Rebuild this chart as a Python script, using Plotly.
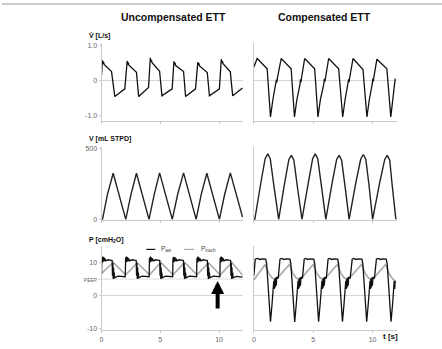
import plotly.graph_objects as go

# ---------------- data ----------------
# Flow, uncompensated ETT  [L/s]
flow_unc_t = [0.00, 0.07, 0.12, 0.16, 0.22, 0.85, 1.13, 1.98,
              2.18, 2.23, 2.27, 2.33, 2.97, 3.16, 4.00,
              4.15, 4.20, 4.24, 4.30, 4.94, 5.14, 6.01,
              6.16, 6.21, 6.25, 6.31, 6.98, 7.15, 8.00,
              8.19, 8.24, 8.28, 8.34, 9.00, 9.18, 10.03,
              10.19, 10.24, 10.28, 10.34, 10.96, 11.16, 12.00]
flow_unc_v = [0.15, 0.57, 0.47, 0.53, 0.45, 0.25, -0.46, -0.24,
              0.55, 0.45, 0.51, 0.43, 0.23, -0.46, -0.20,
              0.64, 0.53, 0.58, 0.50, 0.26, -0.44, -0.24,
              0.54, 0.45, 0.50, 0.42, 0.25, -0.46, -0.24,
              0.52, 0.43, 0.49, 0.41, 0.22, -0.44, -0.24,
              0.60, 0.50, 0.55, 0.47, 0.24, -0.44, -0.22]

# Flow, compensated ETT [L/s]
flow_comp_t = [0.00, 0.28, 1.12, 1.40, 1.60, 1.85, 1.90, 1.94, 1.98,
               2.30, 3.14, 3.42, 3.62, 3.88, 3.93, 3.97, 4.01,
               4.28, 5.12, 5.40, 5.60, 5.88, 5.94, 5.98, 6.03,
               6.30, 7.14, 7.48, 7.68, 7.92, 7.98, 8.02, 8.06,
               8.35, 9.19, 9.52, 9.72, 9.96, 10.02, 10.06, 10.10,
               10.36, 11.20, 11.53, 11.70, 11.86, 11.90]
flow_comp_v = [0.38, 0.62, 0.33, -1.04, -0.55, -0.12, 0.02, -0.06, 0.06,
               0.62, 0.33, -1.04, -0.55, -0.12, 0.03, -0.05, 0.06,
               0.62, 0.33, -1.04, -0.55, -0.12, 0.04, -0.04, 0.06,
               0.62, 0.33, -1.04, -0.55, -0.12, 0.03, -0.05, 0.06,
               0.62, 0.31, -1.04, -0.55, -0.12, 0.05, -0.03, 0.08,
               0.60, 0.33, -1.04, -0.50, -0.08, 0.05]

# Volume, uncompensated [mL STPD]
vol_unc_t = [0.00, 0.08, 0.50, 0.99, 2.06, 2.50, 2.97, 4.04, 4.48, 4.94,
             6.02, 6.48, 6.98, 8.05, 8.48, 8.96, 10.03, 10.48, 10.96, 12.00]
vol_unc_v = [0, 0, 175, 327, 0, 175, 327, 0, 175, 330,
             0, 178, 330, 0, 175, 327, 0, 178, 330, 16]

# Volume, compensated [mL STPD]
vol_comp_t = [0.00, 0.08, 0.60, 0.95, 1.17, 1.38, 1.70, 2.09,
              2.60, 2.95, 3.16, 3.37, 3.70, 4.05,
              4.60, 4.95, 5.17, 5.38, 5.70, 6.06,
              6.60, 6.97, 7.18, 7.39, 7.70, 8.02,
              8.60, 9.00, 9.22, 9.43, 9.70, 10.00,
              10.60, 11.02, 11.23, 11.44, 11.65, 11.96]
vol_comp_v = [0, 0, 265, 430, 465, 430, 230, 0,
              262, 425, 454, 420, 210, 0,
              265, 430, 465, 430, 230, 0,
              262, 425, 454, 420, 220, 0,
              265, 428, 460, 425, 240, 0,
              262, 425, 454, 420, 240, 0]

# Airway pressure P_aw, uncompensated [cmH2O]
paw_unc_t = [0.00, 0.03, 0.07, 0.11, 0.15, 0.19, 0.24, 0.29, 0.36, 0.55, 0.90,
             0.93, 0.96, 0.99, 1.02, 1.05, 1.08, 1.12, 1.40, 2.02,
             2.05, 2.09, 2.13, 2.17, 2.21, 2.26, 2.31, 2.38, 2.60, 2.95,
             2.98, 3.01, 3.04, 3.07, 3.10, 3.13, 3.17, 3.45, 4.05,
             4.08, 4.12, 4.16, 4.20, 4.24, 4.29, 4.34, 4.41, 4.60, 4.95,
             4.98, 5.01, 5.04, 5.07, 5.10, 5.13, 5.17, 5.45, 6.05,
             6.08, 6.12, 6.16, 6.20, 6.24, 6.29, 6.34, 6.41, 6.60, 6.97,
             7.00, 7.03, 7.06, 7.09, 7.12, 7.15, 7.19, 7.47, 8.09,
             8.12, 8.16, 8.20, 8.24, 8.28, 8.33, 8.38, 8.45, 8.64, 9.00,
             9.03, 9.06, 9.09, 9.12, 9.15, 9.18, 9.22, 9.50, 10.07,
             10.10, 10.14, 10.18, 10.22, 10.26, 10.31, 10.36, 10.43, 10.62, 10.98,
             11.01, 11.04, 11.07, 11.10, 11.13, 11.16, 11.20, 11.48, 12.00]
paw_unc_v = [6.5, 11.5, 10.0, 11.8, 10.2, 11.6, 10.4, 11.2, 10.5, 10.8, 10.6,
             6.0, 9.8, 5.0, 8.5, 5.2, 7.0, 5.4, 5.9, 5.7,
             11.5, 10.0, 11.8, 10.2, 11.6, 10.4, 11.2, 10.5, 10.8, 10.6,
             6.0, 9.8, 5.0, 8.5, 5.2, 7.0, 5.4, 5.9, 5.7,
             11.4, 10.0, 11.8, 10.2, 11.5, 10.4, 11.2, 10.5, 10.8, 10.6,
             6.0, 9.8, 5.0, 8.5, 5.2, 7.0, 5.4, 5.9, 5.7,
             11.5, 10.0, 11.7, 10.2, 11.6, 10.4, 11.2, 10.5, 10.8, 10.6,
             6.0, 9.8, 5.0, 8.5, 5.2, 7.0, 5.4, 5.9, 5.7,
             11.4, 10.0, 11.8, 10.2, 11.5, 10.4, 11.2, 10.5, 10.8, 10.6,
             6.0, 9.8, 5.0, 8.5, 5.2, 7.0, 5.4, 5.9, 5.7,
             11.5, 10.0, 11.8, 10.2, 11.6, 10.4, 11.2, 10.5, 10.8, 10.6,
             6.0, 9.8, 5.0, 8.5, 5.2, 7.0, 5.4, 5.8, 5.6]

# Tracheal pressure P_trach, uncompensated
ptr_unc_t = [0.00, 1.00, 2.05, 3.05, 4.08, 5.05, 6.08, 7.07, 8.12, 9.10, 10.10, 11.08, 12.00]
ptr_unc_v = [6.7, 10.0, 6.3, 9.9, 6.3, 10.0, 6.3, 10.0, 6.3, 9.9, 6.2, 10.0, 6.2]

# Airway pressure P_aw, compensated
paw_comp_t = [0.00, 0.12, 0.30, 0.50, 0.70, 1.00, 1.08, 1.22, 1.40, 1.52, 1.62, 1.68, 1.72,
              1.76, 1.80, 1.84, 1.88, 1.93, 2.05,
              2.20, 2.34, 2.54, 2.74, 3.04, 3.12, 3.26, 3.44, 3.56, 3.66, 3.72, 3.76,
              3.80, 3.84, 3.88, 3.92, 3.97, 4.09,
              4.24, 4.35, 4.55, 4.75, 5.05, 5.13, 5.27, 5.45, 5.57, 5.67, 5.73, 5.77,
              5.81, 5.85, 5.89, 5.93, 5.98, 6.10,
              6.25, 6.36, 6.56, 6.76, 7.06, 7.14, 7.28, 7.46, 7.58, 7.68, 7.74, 7.78,
              7.82, 7.86, 7.90, 7.94, 7.99, 8.11,
              8.28, 8.40, 8.60, 8.80, 9.10, 9.18, 9.32, 9.50, 9.62, 9.72, 9.78, 9.82,
              9.86, 9.90, 9.94, 9.98, 10.03, 10.15,
              10.32, 10.45, 10.65, 10.85, 11.15, 11.23, 11.37, 11.55, 11.67, 11.77, 11.82, 11.86,
              11.90]
paw_comp_v = [6.0, 11.0, 11.2, 10.9, 11.1, 11.0, 9.5, 2.0, -7.8, -3.0, 1.0, 4.5, 2.0,
              5.2, 2.5, 5.5, 3.0, 5.6, 5.2,
              11.0, 11.2, 10.9, 11.1, 11.0, 9.5, 2.0, -7.9, -3.0, 1.0, 4.5, 2.0,
              5.2, 2.5, 5.5, 3.0, 5.6, 5.2,
              11.0, 11.2, 10.9, 11.1, 11.0, 9.5, 2.0, -7.8, -3.0, 1.0, 4.5, 2.0,
              5.2, 2.5, 5.5, 3.0, 5.6, 5.2,
              11.0, 11.2, 10.9, 11.1, 11.0, 9.5, 2.0, -7.8, -3.0, 1.0, 4.5, 2.0,
              5.2, 2.5, 5.5, 3.0, 5.6, 5.2,
              11.0, 11.2, 10.9, 11.1, 11.0, 9.5, 2.0, -7.8, -3.0, 1.0, 4.5, 2.0,
              5.2, 2.5, 5.5, 3.0, 5.6, 5.2,
              11.0, 11.2, 10.9, 11.1, 11.0, 9.5, 2.0, -7.8, -3.0, 1.0, 4.5, 2.0,
              4.5]

# Tracheal pressure P_trach, compensated
ptr_comp_t = [0.00, 0.95, 1.25, 1.55, 1.80, 2.05,
              3.00, 3.28, 3.58, 3.83, 4.08,
              5.00, 5.30, 5.60, 5.85, 6.10,
              7.03, 7.32, 7.62, 7.87, 8.12,
              9.07, 9.36, 9.66, 9.91, 10.16,
              11.10, 11.40, 11.70, 11.90]
ptr_comp_v = [4.7, 9.4, 6.8, 5.3, 4.9, 5.6,
              9.4, 6.8, 5.3, 4.9, 5.6,
              9.4, 6.8, 5.3, 4.9, 5.6,
              9.4, 6.8, 5.3, 4.9, 5.6,
              9.4, 6.8, 5.3, 4.9, 5.6,
              9.4, 6.6, 5.0, 4.5]

col_titles = ["Uncompensated ETT", "Compensated ETT"]
x_ticks = [0, 5, 10]
flow_ticks = [1.0, 0, -1.0]
flow_ticktext = ["1.0", "0", "-1.0"]
vol_ticks = [500, 0]
pres_ticks = [10, 5, 0, -10]
pres_ticktext = ["10", "<span style='font-size:5px'>PEEP</span>", "0", "-10"]
peep_level = 5

# ---------------- figure ----------------
W, H = 442, 349
FONT = "Liberation Sans, Arial, sans-serif"
BLACK = "#111111"
GRAY = "#a9a9a9"
AXC = "#c9c9c9"

def px(x):
    return x / W

def py(y):
    return 1 - y / H

fig = go.Figure()

def add(t, v, color, xa, ya, width=1.3):
    fig.add_trace(go.Scatter(x=t, y=v, mode="lines", xaxis=xa, yaxis=ya,
                             line=dict(color=color, width=width), hoverinfo="skip",
                             showlegend=False))

add(flow_unc_t, flow_unc_v, BLACK, "x", "y")
add(flow_comp_t, flow_comp_v, BLACK, "x2", "y2")
add(vol_unc_t, vol_unc_v, "#222222", "x3", "y3", 1.4)
add(vol_comp_t, vol_comp_v, "#222222", "x4", "y4", 1.4)
add(ptr_unc_t, ptr_unc_v, GRAY, "x5", "y5", 1.6)
add(paw_unc_t, paw_unc_v, BLACK, "x5", "y5", 1.3)
add(ptr_comp_t, ptr_comp_v, GRAY, "x6", "y6", 1.6)
add(paw_comp_t, paw_comp_v, BLACK, "x6", "y6", 1.3)

xL = [px(100), px(242)]
xR = [px(253), px(397)]
dFlow = [py(121), py(42)]
dVol = [py(221), py(147)]
dPres = [py(333), py(248)]

tickfont = dict(family=FONT, size=7, color="#666666")

def xaxis(domain, rng, anchor, labels):
    return dict(domain=domain, range=rng, anchor=anchor, showgrid=False, zeroline=False,
                showline=True, linecolor=AXC, linewidth=1, tickvals=x_ticks,
                ticks="outside", ticklen=2, tickcolor=AXC,
                showticklabels=labels, tickfont=tickfont, fixedrange=True)

def yaxis(domain, rng, anchor, vals=None, text=None, zl=False):
    d = dict(domain=domain, range=rng, anchor=anchor, showgrid=False,
             zeroline=zl, zerolinecolor="#d6d6d6", zerolinewidth=1,
             showline=True, linecolor=AXC, linewidth=1, tickfont=tickfont, fixedrange=True)
    if vals is None:
        d.update(showticklabels=False, ticks="")
    else:
        d.update(tickvals=vals, ticktext=text, ticks="outside", ticklen=2, tickcolor=AXC)
    return d

fr = [-1.161, 1.049]
vr = [-3.5, 514]
pr = [-10.37, 14.81]
fig.update_layout(
    width=W, height=H, margin=dict(l=0, r=0, t=0, b=0),
    paper_bgcolor="white", plot_bgcolor="white", showlegend=False,
    xaxis=xaxis(xL, [0, 12.03], "y", False),
    yaxis=yaxis(dFlow, fr, "x", flow_ticks, flow_ticktext, True),
    xaxis2=xaxis(xR, [0, 12.07], "y2", False),
    yaxis2=yaxis(dFlow, fr, "x2", zl=True),
    xaxis3=xaxis(xL, [0, 12.03], "y3", False),
    yaxis3=yaxis(dVol, vr, "x3", vol_ticks, ["500", "0"]),
    xaxis4=xaxis(xR, [0, 12.07], "y4", False),
    yaxis4=yaxis(dVol, vr, "x4"),
    xaxis5=xaxis(xL, [0, 12.03], "y5", True),
    yaxis5=yaxis(dPres, pr, "x5", pres_ticks, pres_ticktext, True),
    xaxis6=xaxis(xR, [0, 12.07], "y6", True),
    yaxis6=yaxis(dPres, pr, "x6", zl=True),
)

# PEEP reference line (left pressure panel)
fig.add_shape(type="line", xref="x5", yref="y5", x0=0, x1=12.03, y0=peep_level, y1=peep_level,
              line=dict(color="#dddddd", width=1), layer="below")

# top rule
fig.add_shape(type="line", xref="paper", yref="paper", x0=0, x1=1, y0=py(2), y1=py(2),
              line=dict(color="#bbbbbb", width=1.5))

def txt(x, y, s, size, bold=False, color="#111111", xanchor="center"):
    fig.add_annotation(x=px(x), y=py(y), xref="paper", yref="paper", text=s,
                       showarrow=False, xanchor=xanchor, yanchor="middle",
                       font=dict(family=FONT, size=size, color=color))

txt(172, 15, "<b>" + col_titles[0] + "</b>", 10.5)
txt(324, 15, "<b>" + col_titles[1] + "</b>", 10.5)
txt(85, 34, "<b>V\u0307 [L/s]</b>", 7, xanchor="left")
txt(85, 139, "<b>V [mL STPD]</b>", 7, xanchor="left")
txt(85, 241, "<b>P [cmH<sub>2</sub>O]</b>", 7, xanchor="left")
txt(381, 339, "<b>t [s]</b>", 8, xanchor="left")

# legend
fig.add_shape(type="line", xref="paper", yref="paper", x0=px(145), x1=px(154), y0=py(251), y1=py(251),
              line=dict(color=BLACK, width=1.2))
fig.add_shape(type="line", xref="paper", yref="paper", x0=px(183), x1=px(193), y0=py(251), y1=py(251),
              line=dict(color=GRAY, width=1.2))
txt(158, 251, "P<sub>aw</sub>", 6.5, color="#444444", xanchor="left")
txt(198, 251, "P<sub>trach</sub>", 6.5, color="#444444", xanchor="left")

# arrow
fig.add_annotation(x=9.88, y=4.4, ax=9.88, ay=-4.3, xref="x5", yref="y5", axref="x5", ayref="y5",
                   text="", showarrow=True, arrowhead=2, arrowwidth=4, arrowsize=0.65,
                   arrowcolor="black", standoff=0)

fig.write_html("out.html")
